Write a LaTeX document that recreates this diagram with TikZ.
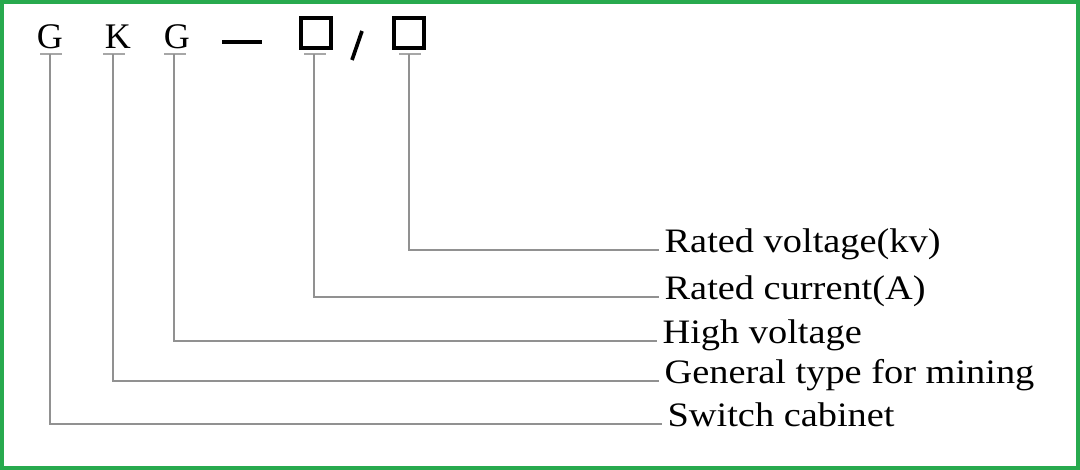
\documentclass[tikz,border=0pt]{standalone}
\usepackage{fontspec}
\setmainfont{Liberation Serif}
\newfontfamily\labelfont[FakeStretch=1.12]{Liberation Serif}
\usepackage{tikz}
\usetikzlibrary{positioning, calc}

\definecolor{frame}{RGB}{40,170,78}
\definecolor{leadgray}{RGB}{145,145,145}

\begin{document}
\begin{tikzpicture}[
        x=0.02cm, y=-0.02cm,
        code/.style={font=\fontsize{20.5}{24}\selectfont, inner sep=0pt},
        slot/.style={draw=black, line width=2.3pt, minimum size=0.6cm, inner sep=0pt},
        tick/.style={draw=leadgray!80, line width=1.6pt},
        lead/.style={draw=leadgray, line width=1.2pt},
        label/.style={anchor=west, font=\labelfont\fontsize{19.5}{23}\selectfont, inner xsep=3pt, text height=1.1ex, text depth=0.6ex}
    ]
        \useasboundingbox (0,0) rectangle (1080,470);
        \draw[frame, line width=2.3pt] (2,2) rectangle (1078,468);

        % type code
        \node[code] (g1) at (50,37) {G};
        \node[code] (k) at (118,37) {K};
        \node[code] (g2) at (177,37) {G};
        \draw[line width=2.3pt] (222,42) -- (262,42);
        \node[slot] (b1) at (316,33) {};
        \draw[line width=2.1pt] (352,60) -- (362,31);
        \node[slot] (b2) at (409,33) {};

        % small caps under the code
        \coordinate (t1) at (50,54);
        \coordinate (t2) at (113,54);
        \coordinate (t3) at (174,54);
        \coordinate (t4) at (314,54);
        \coordinate (t5) at (409,54);
        \foreach \t in {t1,t2,t3,t4,t5}
            \draw[tick] ($(\t)+(-10,0)$) -- ($(\t)+(12,0)$);

        % meanings
        \node[label] (volt) at (659,250) {Rated voltage(kv)};
        \node[label] (curr) at (659,297) {Rated current(A)};
        \node[label] (high) at (657,341) {High voltage};
        \node[label] (mine) at (659,381) {General type for mining};
        \node[label] (cab) at (662,424) {Switch cabinet};

        \draw[lead] (t5) |- (volt.west);
        \draw[lead] (t4) |- (curr.west);
        \draw[lead] (t3) |- (high.west);
        \draw[lead] (t2) |- (mine.west);
        \draw[lead] (t1) |- (cab.west);
    \end{tikzpicture}
\end{document}
